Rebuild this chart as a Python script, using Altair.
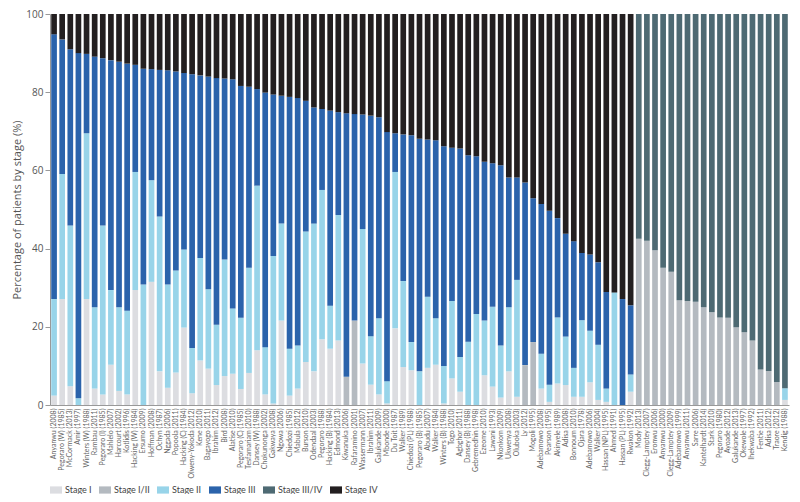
import altair as alt
import pandas as pd

studies = [
    "Anyanwu (2008)", "Pegoraro (W) (1985)", "McCormack (2013)", "Amir (1997)", "Winters (W) (1988)",
    "Rambau (2011)", "Pegoraro (I) (1985)", "Mahlelo (2007)", "Harcourt (2002)", "Kotlidis (1996)",
    "Hacking (W) (1984)", "Ersumo (2009)", "Hoffman (2008)", "Ochyn (1987)", "Nggada (2006)",
    "Popoola (2011)", "Hacking (C) (1984)", "Olweny-Yokoda (2012)", "Kene (2010)", "Bagayogo (2011)",
    "Ibrahim (2012)", "Bird (2008)", "Alatise (2010)", "Pegoraro (C) (1985)", "Tesfamariam (2010)",
    "Dansey (W) (1988)", "Chokunonga (2002)", "Gakwaya (2008)", "Ngowa (2006)", "Chiedozi (1985)",
    "Mabula (2012)", "Burson (2010)", "Odendaal (2003)", "Pegoraro (1988)", "Hacking (B) (1984)",
    "Edmond (2013)", "Kiwanuka (2006)", "Rafaramino (2001)", "Wassermann (2007)", "Ibrahim (2011)",
    "Galukande (2009)", "Mbonde (2000)", "Du Toit (1987)", "Walker (1989)", "Chiedozi (PL) (1988)",
    "Pegoraro (B) (1985)", "Abudu (2007)", "Walker (1984)", "Winters (B) (1988)", "Togo (2010)",
    "Agbghor (2011)", "Dansey (B) (1988)", "Gebremedhin (1998)", "Ezeome (2010)", "Lawani (1993)",
    "Nkonkom (2009)", "Ukwenya (2008)", "Oluboka (2003)", "Ly (2012)", "Mogoli (1995)",
    "Adebamowo (2008)", "Pearson (1995)", "Akinyele (1989)", "Adisa (2008)", "Bonnoum (2010)",
    "Ojara (1978)", "Adebamowo (2006)", "Walker (2004)", "Hassan (NPL) (1995)", "Ahmed (1991)",
    "Hassan (PL) (1995)", "Rwakon (1992)", "Mody (2013)", "Clegg-Lamptey (2007)", "Eronwu (2006)",
    "Anyanwu (2000)", "Clegg-Lamptey (2009)", "Adebamowo (1999)", "Anyanwu (2011)", "Sarre (2006)",
    "Kantelhardt (2014)", "Stark (2010)", "Pegoraro (1980)", "Ayoade (2012)", "Galukande (2013)",
    "Okewole (1997)", "Ihekwaba (1992)", "Fentie (2011)", "Adisa (2012)", "Traore (2012)",
    "Kendig (1988)",
]

stage_1 = [
    2.4, 27.1, 4.8, 0, 27.1, 4.2, 2.7, 10.3, 3.6, 2.7,
    29.4, 0, 31.5, 8.6, 4.4, 8.3, 19.8, 3.0, 11.4, 9.3,
    5.1, 7.4, 8.0, 4.1, 8.2, 14.0, 2.7, 0.4, 21.6, 2.4,
    4.2, 11.0, 8.6, 16.8, 14.4, 16.5, 0, 0, 10.6, 5.2,
    2.7, 0.4, 19.6, 9.7, 8.9, 0, 9.5, 10.3, 0.4, 6.8,
    3.4, 0, 0, 7.6, 4.7, 1.9, 8.6, 2.1, 0, 0,
    4.2, 0.8, 5.5, 5.1, 2.1, 2.1, 5.8, 1.3, 0.8, 0,
    0, 3.4, 0, 0, 0, 0, 0, 0, 0, 0,
    0, 0, 0, 0, 0, 0, 0, 0, 0, 0,
    1.3,
]
stage_1_2 = [
    0, 0, 0, 0, 0, 0, 0, 0, 0, 0,
    0, 0, 0, 0, 0, 0, 0, 0, 0, 0,
    0, 0, 0, 0, 0, 0, 0, 0, 0, 0,
    0, 0, 0, 0, 0, 0, 7.2, 21.6, 0, 0,
    0, 0, 0, 0, 0, 0, 0, 0, 0, 0,
    0, 0, 0, 0, 0, 0, 0, 0, 10.2, 16.1,
    0, 0, 0, 0, 0, 0, 0, 0, 0, 0,
    0, 0, 42.5, 42.0, 39.6, 35.1, 34.1, 26.8, 26.6, 26.4,
    25.0, 23.7, 22.4, 22.3, 19.9, 18.6, 16.5, 9.1, 8.7, 5.9,
    0,
]
stage_2 = [
    24.7, 32.0, 41.1, 1.7, 42.4, 20.8, 43.2, 19.1, 21.4, 21.4,
    30.2, 30.8, 26.0, 39.6, 26.4, 26.1, 20.0, 11.6, 26.2, 20.3,
    15.4, 29.8, 16.7, 18.2, 26.9, 42.1, 12.1, 37.7, 24.8, 12.0,
    11.0, 33.4, 37.8, 38.2, 11.0, 32.1, 0, 0, 34.4, 12.4,
    19.5, 5.7, 40.0, 22.0, 7.2, 8.6, 18.2, 11.9, 9.6, 19.8,
    8.9, 16.2, 23.3, 14.0, 20.4, 13.3, 16.4, 29.9, 0, 0,
    8.9, 4.4, 16.9, 12.4, 7.4, 19.6, 13.2, 14.1, 3.4, 28.8,
    0, 4.4, 0, 0, 0, 0, 0, 0, 0, 0,
    0, 0, 0, 0, 0, 0, 0, 0, 0, 0,
    3.0,
]
stage_3 = [
    67.7, 34.4, 45.1, 88.3, 20.3, 64.1, 42.8, 58.8, 62.8, 63.2,
    27.4, 55.2, 28.4, 37.5, 54.8, 50.9, 45.1, 70.0, 46.7, 54.4,
    63.1, 46.3, 58.6, 59.3, 46.3, 24.7, 65.1, 41.3, 32.7, 64.4,
    63.3, 33.4, 29.7, 20.7, 49.9, 26.3, 67.4, 52.8, 29.3, 56.4,
    51.4, 63.7, 9.9, 37.5, 52.9, 59.5, 40.2, 45.5, 56.2, 39.2,
    53.3, 47.7, 40.3, 40.6, 36.7, 46.1, 33.2, 26.2, 46.7, 36.8,
    38.3, 44.5, 25.4, 26.3, 32.4, 17.2, 19.5, 21.1, 24.7, 0,
    27.1, 17.7, 0, 0, 0, 0, 0, 0, 0, 0,
    0, 0, 0, 0, 0, 0, 0, 0, 0, 0,
    0,
]
stage_3_4 = [0] * 72 + [
    57.5, 58.0, 60.4, 64.9, 65.9, 73.2, 73.4, 73.6,
    75.0, 76.3, 77.6, 77.7, 80.1, 81.4, 83.5, 90.9, 91.3, 94.1,
    95.7,
]
stage_4 = [
    5.2, 6.5, 9.0, 10.0, 10.2, 10.9, 11.3, 11.8, 12.2, 12.7,
    13.0, 14.0, 14.1, 14.3, 14.4, 14.7, 15.1, 15.4, 15.7, 16.0,
    16.4, 16.5, 16.7, 18.4, 18.6, 19.2, 20.1, 20.6, 20.9, 21.2,
    21.5, 22.2, 23.9, 24.3, 24.7, 25.1, 25.4, 25.6, 25.7, 26.0,
    26.4, 30.2, 30.5, 30.8, 31.0, 31.9, 32.1, 32.3, 33.8, 34.2,
    34.4, 36.1, 36.4, 37.8, 38.2, 38.7, 41.8, 41.8, 43.1, 47.1,
    48.6, 50.3, 52.2, 56.2, 58.1, 61.1, 61.5, 63.5, 71.1, 71.2,
    72.9, 74.5, 0, 0, 0, 0, 0, 0, 0, 0,
    0, 0, 0, 0, 0, 0, 0, 0, 0, 0,
    0,
]

stages = ["Stage I", "Stage I/II", "Stage II", "Stage III", "Stage III/IV", "Stage IV"]
colors = ["#dcdde1", "#b4bac0", "#98d4e9", "#2b63ab", "#4e6a73", "#231f20"]
series = [stage_1, stage_1_2, stage_2, stage_3, stage_3_4, stage_4]

rows = []
for k, (stg, vals) in enumerate(zip(stages, series)):
    for name, v in zip(studies, vals):
        rows.append({"study": name, "stage": stg, "order": k, "value": v})
df = pd.DataFrame(rows)

FONT = "Lato, sans-serif"
TFONT = "Open Sans, sans-serif"

chart = alt.Chart(df).mark_bar().encode(
    x=alt.X("study:N", sort=studies,
            scale=alt.Scale(paddingInner=0.3, paddingOuter=0.15),
            axis=alt.Axis(title=None, labelAngle=-90, labelFontSize=7, labelColor="#666666",
                          ticks=False, labelPadding=3, domainColor="#999999",
                          labelFont=FONT, labelOverlap=False)),
    y=alt.Y("value:Q", stack="zero",
            scale=alt.Scale(domain=[0, 100], nice=False),
            axis=alt.Axis(title="Percentage of patients by stage (%)", values=[0, 20, 40, 60, 80, 100],
                          grid=False, labelFontSize=10, labelColor="#555555", tickColor="#999999",
                          domainColor="#999999", tickSize=5, labelPadding=2,
                          titleFontSize=11, titleFontWeight="normal", titleColor="#555555",
                          titlePadding=3, labelFont=TFONT, titleFont=TFONT)),
    color=alt.Color("stage:N", scale=alt.Scale(domain=stages, range=colors),
                    legend=alt.Legend(title=None, orient="none", legendX=0, legendY=470,
                                      direction="horizontal",
                                      symbolType="M-1,-0.6H1V0.6H-1Z", symbolSize=144,
                                      symbolStrokeWidth=0, labelFontSize=9, labelColor="#444444",
                                      labelFont=FONT, columnPadding=7, labelOffset=3)),
    order=alt.Order("order:Q"),
).properties(
    width=739, height=391,
    autosize=alt.AutoSizeParams(type="none"),
    padding={"left": 42, "top": 6, "right": 3, "bottom": 89},
).configure_view(stroke=None)

chart.save("out.html", embed_options={"renderer": "svg", "actions": False})
